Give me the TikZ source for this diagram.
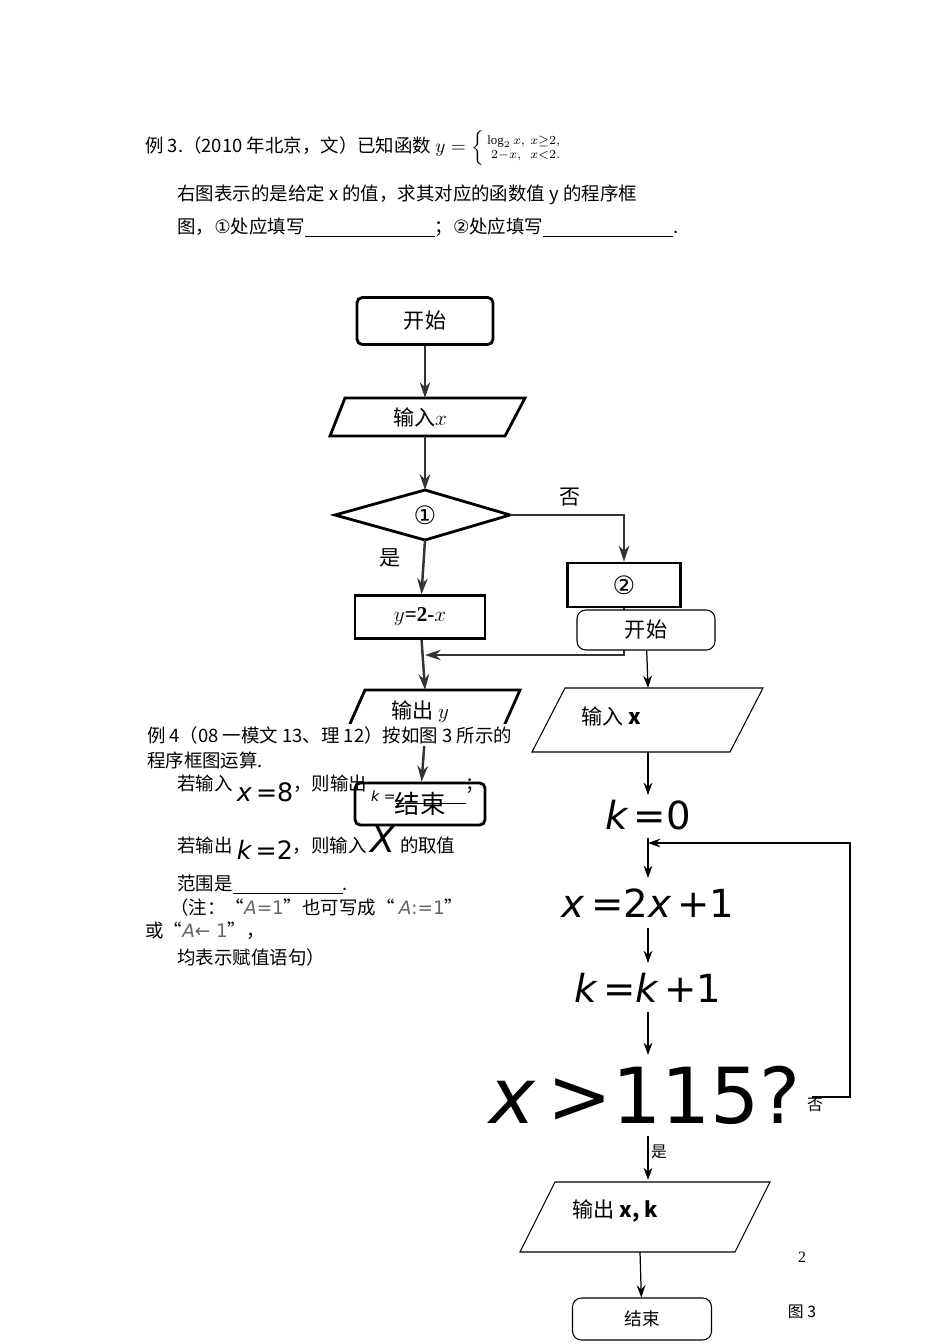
\documentclass[tikz,border=0pt]{standalone}
\usepackage{fontspec}
\usepackage{amsmath}
\setmainfont{Liberation Serif}
\newfontfamily\cjk{Noto Sans CJK SC}
\newfontfamily\dvs{DejaVu Sans}
\usetikzlibrary{arrows.meta}
\begin{document}
\begin{tikzpicture}[x=0.02cm,y=-0.02cm,
  oldbox/.style={draw,line width=1.6pt,rounded corners=3pt},
  newbox/.style={draw,line width=0.6pt,rounded corners=5pt},
  arr/.style={-{Stealth[length=7pt,width=5pt]},line width=0.7pt},
  oldarr/.style={-{Stealth[length=9pt,width=6pt]},line width=1.4pt,draw=black!80},
  txt/.style={font=\cjk\fontsize{10.5pt}{12pt}\selectfont,anchor=west,inner sep=0}]
\useasboundingbox (0,0) rectangle (950,1344);
% Example 3 text
\node[txt] (t1) at (145,148) {例 3.（2010 年北京，文）已知函数 $y=\left\{\begin{smallmatrix}\log_2 x, & x\ge 2,\\ 2-x, & x<2.\end{smallmatrix}\right.$};
\node[txt] (t2) at (177,195) {右图表示的是给定 x 的值，求其对应的函数值 y 的程序框};
\node[txt] (t3) at (177,228) {图，{\dvs ①}处应填写\underline{\hspace{2.6cm}}；{\dvs ②}处应填写\underline{\hspace{2.6cm}}.};
% old flowchart
\node[oldbox,minimum width=2.72cm,minimum height=0.94cm,font=\cjk\large] (s) at (425,321) {开始};
\draw[line width=1.6pt] (345,398) -- (525,398) -- (505,436) -- (330,436) -- cycle;
\node[font=\cjk\large] (in) at (420,417) {输入$x$};
\draw[line width=1.6pt] (335,515) -- (425,490) -- (510,515) -- (425,540) -- cycle;
\node[font=\dvs\Large] (d) at (425,515) {①};
\node[oldbox,rounded corners=0,minimum width=2.26cm,minimum height=0.88cm,font=\dvs\Large] (b2) at (624,585) {②};
\node[oldbox,rounded corners=0,minimum width=2.6cm,minimum height=0.86cm,font=\large\bfseries] (b1) at (420,617) {$y$=2-$x$};
\draw[line width=1.6pt] (365,690) -- (520,690) -- (500,735) -- (345,735) -- cycle;
\node[font=\cjk\large] (out) at (420,712) {输出 $y$};
\node[oldbox,minimum width=2.6cm,minimum height=0.84cm,font=\cjk\Large] (e) at (420,804) {结束};
\draw[oldarr] (s) -- (425,398);
\draw[oldarr] (425,436) -- (425,490);
\draw[oldarr] (425,540) -- (b1);
\draw[oldarr] (510,515) -| (b2);
\draw[oldarr] (b2) |- (425,655);
\draw[oldarr] (b1) -- (425,690);
\draw[oldarr] (425,735) -- (e);
\node[font=\cjk\large] (no1) at (570,497) {否};
\node[font=\cjk\large] (yes1) at (390,558) {是};
% Example 4 text
\node[txt,fill=white,inner sep=1pt] (u1) at (145,735) {例 4（08 一模文 13、理 12）按如图 3 所示的};
\node[txt,fill=white,inner sep=1pt] (u2) at (145,760) {程序框图运算.};
\node[txt] (u3) at (177,790) {若输入 \raisebox{-6pt}{\dvs\Large\itshape x\,\upshape =8}，则输出 \raisebox{-6pt}{\dvs\footnotesize\itshape k =\underline{\hspace{1.4cm}}}；};
\node[txt] (u4) at (177,843) {若输出 \raisebox{-4pt}{\dvs\Large\itshape k\,\upshape =2}，则输入 {\dvs\huge\itshape X} 的取值};
\node[txt] (u5) at (177,885) {范围是\underline{\hspace{2.2cm}}.};
\node[txt] (u6) at (170,907) {（注：“{\dvs\color{black!60}\itshape A\upshape =1}”也可写成“ {\dvs\color{black!60}\itshape A\upshape :=1}”};
\node[txt] (u7) at (145,931) {或“{\dvs\color{black!60}\itshape A\upshape ← 1}”，};
\node[txt] (u8) at (177,957) {均表示赋值语句）};
% new flowchart
\node[newbox,fill=white,minimum width=2.76cm,minimum height=0.8cm,font=\cjk\large] (S) at (646,630) {开始};
\draw[line width=0.6pt] (565,688) -- (763,688) -- (730,752) -- (532,752) -- cycle;
\node[font=\cjk\large,anchor=west] (IN) at (575,716) {输入 \textbf{\textit{x}}};
\node[font=\dvs\fontsize{22pt}{24pt}\selectfont] (K0) at (648,815) {\itshape k\upshape\,=0};
\node[font=\dvs\fontsize{22pt}{24pt}\selectfont] (X) at (648,903) {\itshape x\upshape\,=2\itshape x\upshape\,+1};
\node[font=\dvs\fontsize{22pt}{24pt}\selectfont] (K) at (648,988) {\itshape k\upshape\,=\itshape k\upshape\,+1};
\node[font=\dvs\fontsize{44pt}{46pt}\selectfont,inner sep=0] (C) at (645,1095) {\itshape x\upshape\,>115?};
\node[font=\cjk\small] (no2) at (815,1105) {否};
\node[font=\cjk\small] (yes2) at (659,1152) {是};
\draw[line width=0.6pt] (555,1182) -- (770,1182) -- (735,1252) -- (520,1252) -- cycle;
\node[font=\cjk\large,anchor=west] (OUT) at (566,1211) {输出 \textbf{\textit{x}, \textit{k}}};
\node[newbox,minimum width=2.78cm,minimum height=0.84cm,font=\cjk] (E) at (642,1319) {结束};
\coordinate (j) at (648,843);
\draw[arr] (S) -- (648,688);
\draw[arr] (648,752) -- (648,795);
\draw[arr] (648,838) -- (648,878);
\draw[arr] (648,928) -- (648,963);
\draw[arr] (648,1012) -- (648,1055);
\draw[arr] (648,1136) -- (648,1180);
\draw[arr] (640,1252) -- (E);
\draw[arr] (812,1097) -- (850,1097) -- (850,843) -- (j);
\node[font=\small] (pg) at (802,1257) {2};
\node[font=\cjk\small] (fig) at (802,1312) {图 3};
\end{tikzpicture}
\end{document}
